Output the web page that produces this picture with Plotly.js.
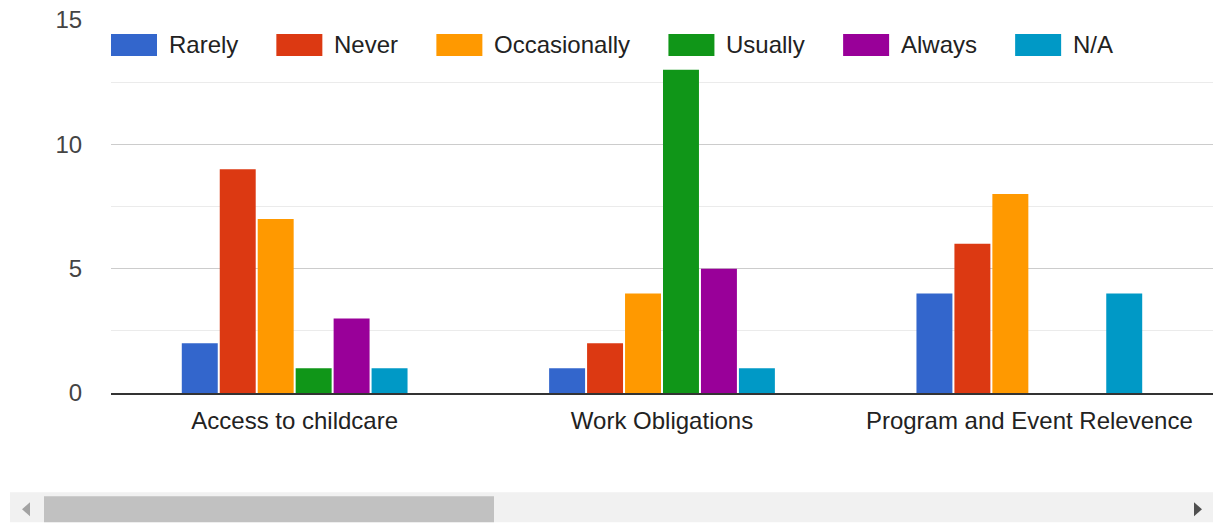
<!DOCTYPE html>
<html>
<head>
<meta charset="utf-8">
<script src="https://cdn.plot.ly/plotly-3.0.1.min.js"></script>
<style>
html,body{margin:0;padding:0;background:#fff;overflow:hidden;}
#chart{width:1213px;height:523px;}
</style>
</head>
<body>
<div id="chart"></div>
<script>
// ---- data ----
const categories = ["Access to childcare", "Work Obligations", "Program and Event Relevence"];
const seriesNames = ["Rarely", "Never", "Occasionally", "Usually", "Always", "N/A"];
const rarely       = [2, 1, 4];
const never        = [9, 2, 6];
const occasionally = [7, 4, 8];
const usually      = [1, 13, 0];
const always       = [3, 5, 0];
const na           = [1, 1, 4];
const yTickValues  = [0, 5, 10, 15];

const seriesValues = [rarely, never, occasionally, usually, always, na];
const colors = ["#3366cc", "#dc3912", "#ff9900", "#109618", "#990099", "#0099c6"];

// ---- geometry ----
const W = 1213, H = 523;
const L = 111, R = 0, T = 20, B = 129.5;
const PW = W - L - R, PH = H - T - B;
const px2x = p => (p - L) / PW;
const py2y = p => (T + PH - p) / PH;
const FONT = "Liberation Sans, Arial, sans-serif";

const traces = seriesNames.map((name, i) => ({
  type: "bar",
  name: name,
  x: categories,
  y: seriesValues[i],
  marker: {color: colors[i], line: {width: 0}},
  hoverinfo: "x+y+name",
  showlegend: false
}));

// ---- custom legend (swatches + text), positioned by measured text widths ----
const ctx = document.createElement("canvas").getContext("2d");
ctx.font = "24px 'Liberation Sans'";
const shapes = [];
const annotations = [];
let pos = 111;
seriesNames.forEach((name, i) => {
  shapes.push({type: "rect", xref: "paper", yref: "paper",
    x0: px2x(pos), x1: px2x(pos + 46), y0: py2y(56), y1: py2y(34),
    fillcolor: colors[i], line: {width: 0}, layer: "above"});
  const tx = pos + 56;
  annotations.push({xref: "paper", yref: "paper", x: px2x(tx), y: py2y(44.5),
    xanchor: "left", yanchor: "middle", showarrow: false, text: name,
    font: {family: FONT, size: 24, color: "#222222"}});
  pos = tx + ctx.measureText(name).width + 40;
});

// ---- scrollbar decoration ----
shapes.push({type: "rect", xref: "paper", yref: "paper",
  x0: px2x(10), x1: px2x(1213), y0: py2y(523), y1: py2y(493),
  fillcolor: "#f1f1f1", line: {width: 0}, layer: "above"});
shapes.push({type: "rect", xref: "paper", yref: "paper",
  x0: px2x(44), x1: px2x(494), y0: py2y(523), y1: py2y(497),
  fillcolor: "#c1c1c1", line: {width: 0}, layer: "above"});
function tri(xs, ys, c) {
  let d = "M" + px2x(xs[0]) + "," + py2y(ys[0]);
  for (let k = 1; k < xs.length; k++) d += " L" + px2x(xs[k]) + "," + py2y(ys[k]);
  return {type: "path", xref: "paper", yref: "paper", path: d + " Z",
    fillcolor: c, line: {width: 0}, layer: "above"};
}
shapes.push(tri([22, 30, 30], [510, 503, 517], "#a3a3a3"));
shapes.push(tri([1202, 1194, 1194], [510, 503, 517], "#505050"));

const layout = {
  width: W, height: H,
  margin: {l: L, r: R, t: T, b: B, pad: 0},
  paper_bgcolor: "#ffffff",
  plot_bgcolor: "#ffffff",
  barmode: "group",
  bargap: 0.38,
  bargroupgap: 0.0526,
  showlegend: false,
  font: {family: FONT, size: 24, color: "#222222"},
  xaxis: {
    type: "category",
    showgrid: false,
    showline: true, linecolor: "#333333", linewidth: 2,
    ticks: "outside", ticklen: 5, tickcolor: "rgba(0,0,0,0)",
    tickfont: {family: FONT, size: 24, color: "#222222"},
    fixedrange: true
  },
  yaxis: {
    range: [0, 15],
    tickmode: "array",
    tickvals: yTickValues,
    ticktext: yTickValues.map(String),
    showgrid: true, gridcolor: "#cccccc", gridwidth: 1,
    minor: {dtick: 2.5, showgrid: true, gridcolor: "#ebebeb", gridwidth: 1, ticks: ""},
    zeroline: false,
    showline: false,
    ticks: "outside", ticklen: 23, tickcolor: "rgba(0,0,0,0)",
    tickfont: {family: FONT, size: 24, color: "#444444"},
    fixedrange: true
  },
  shapes: shapes,
  annotations: annotations
};

Plotly.newPlot("chart", traces, layout, {displayModeBar: false, staticPlot: true});
</script>
</body>
</html>
